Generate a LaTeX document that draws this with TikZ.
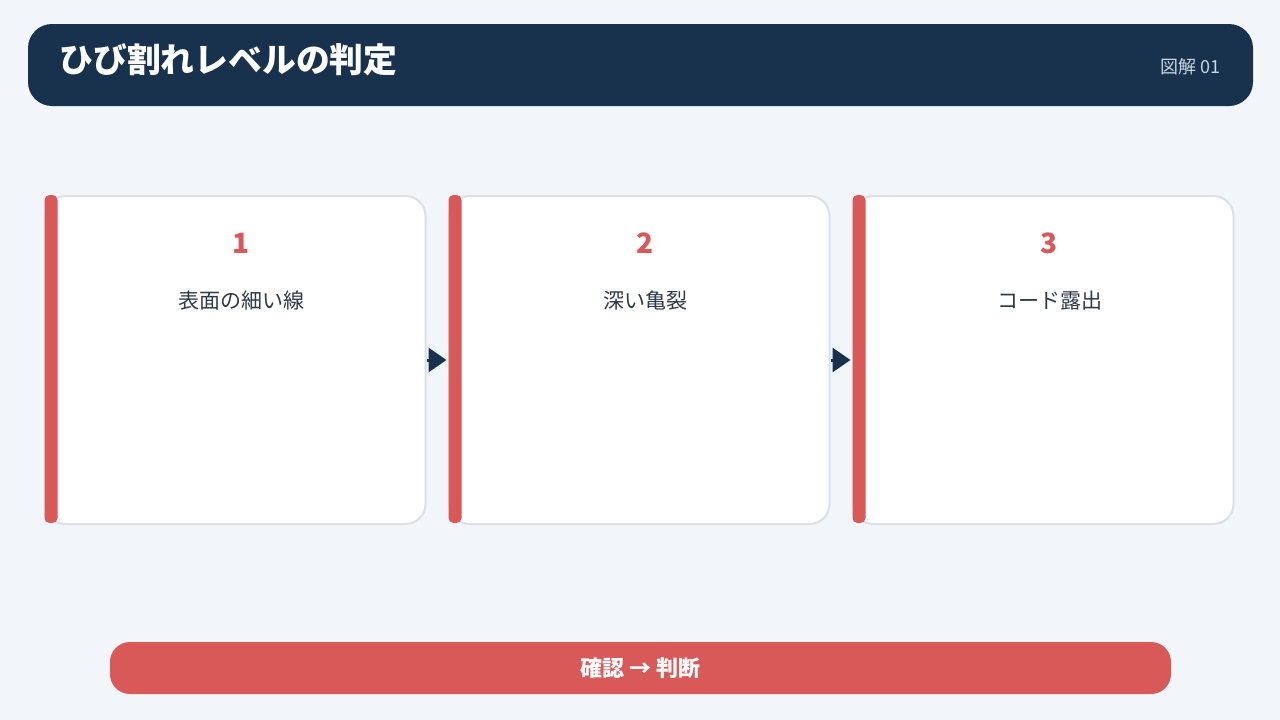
\documentclass[tikz,border=0pt]{standalone}
\usepackage{fontspec}
\setmainfont{Noto Sans CJK JP}
\usetikzlibrary{arrows.meta}
\usetikzlibrary{positioning}
\definecolor{pagebg}{HTML}{F2F5FA}
\definecolor{navy}{HTML}{18324D}
\definecolor{crackred}{HTML}{D95858}
\definecolor{cardline}{HTML}{D9E0E8}
\definecolor{inktext}{HTML}{2E3A48}
\definecolor{tagtext}{HTML}{C9D6E3}
\tikzset{
  cardbox/.style={draw=cardline, line width=2pt, fill=white, rounded corners=20pt,
    minimum width=380pt, minimum height=328pt, inner sep=0pt},
  numlabel/.style={text=crackred, font=\fontsize{28}{32}\selectfont\bfseries},
  steplabel/.style={text=inktext, font=\fontsize{21}{24}\selectfont},
  flowarrow/.style={draw=navy, line width=3pt, shorten >=2pt,
    -{Triangle[length=18pt,width=24pt]}}
}
\begin{document}
\begin{tikzpicture}[x=1pt,y=-1pt]
  \fill[pagebg] (0,0) rectangle (1280,720);
  \useasboundingbox (0,0) rectangle (1280,720);
  % header
  \node[fill=navy, rounded corners=24pt, minimum width=1225pt, minimum height=82pt, inner sep=0pt] (head) at (640.5,65) {};
  \node[anchor=west, text=white, font=\fontsize{33.8}{38}\selectfont\bfseries] (title) at (56,60) {ひび割れレベルの判定};
  \node[anchor=east, text=tagtext, font=\fontsize{18}{21}\selectfont] (tag) at (1224,67) {図解 01};
  % cards
  \foreach \i/\txt in {1/表面の細い線, 2/深い亀裂, 3/コード露出}
  {
    \node[cardbox] (card\i) at (235.5+404*\i-404,360) {};
    \fill[crackred, rounded corners=5pt] (card\i.north west) rectangle ++(13,328);
    \node[numlabel] (num\i) at (241.5+404*\i-404,243) {\i};
    \node[steplabel] (lab\i) at (241.5+404*\i-404,301) {\txt};
  }
  \foreach \a/\b in {1/2,2/3}
  {
    \draw[flowarrow] (card\a) -- (card\b);
  }
  % footer
  \node[fill=crackred, rounded corners=20pt, minimum width=1061pt, minimum height=52pt, inner sep=0pt,
    text=white, font=\fontsize{22}{25}\selectfont\bfseries] (foot) at (640.5,668) {確認 → 判断};
\end{tikzpicture}
\end{document}
